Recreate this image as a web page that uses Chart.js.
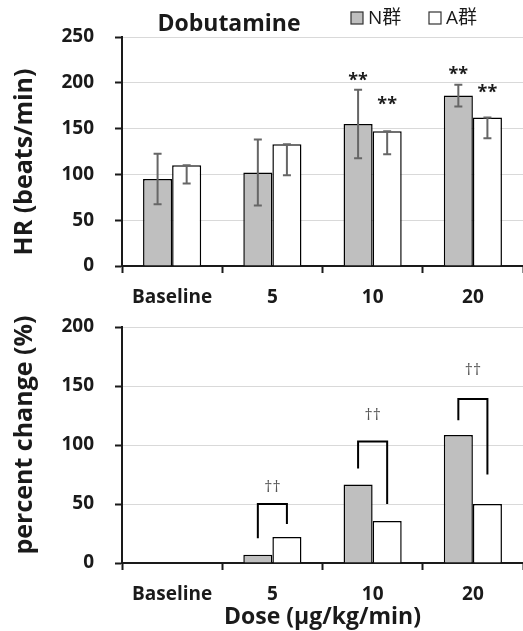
<!DOCTYPE html>
<html>
<head>
<meta charset="utf-8">
<script src="https://cdn.jsdelivr.net/npm/chart.js@4"></script>
<style>
  body { margin: 0; background: #fff; }
  canvas { display: block; }
</style>
</head>
<body>
<canvas id="hrChart" width="523" height="312"></canvas>
<canvas id="pctChart" width="523" height="319"></canvas>
<script>
const doses = ["Baseline", "5", "10", "20"];
const groupNames = ["N群", "A群"];

// HR (beats/min): means and SD
const hrN = [95, 102, 155, 186];
const hrA = [110, 133, 147, 162];
const hrNsd = [27.5, 36, 37.5, 12];
const hrAsd = [20, 34, 25, 22.5];
// where the ** marks sit (beats/min)
const starN = [null, null, 207, 213];
const starA = [null, null, 180, 193];

// percent change (%)
const pctN = [0, 7, 66.5, 108.5];
const pctA = [0, 22, 35.5, 50];
// brackets: top, N leg end, A leg end, dagger height (%)
const bracketTop = [null, 50, 103, 139];
const bracketLegN = [null, 21, 80, 121];
const bracketLegA = [null, 33, 50, 75];
const daggerY = [null, 64, 125, 163];

const FONT = "'Open Sans', 'Noto Sans CJK JP', sans-serif";
const INK = "#1a1a1a";
const grayFill = "#bfbfbf";

Chart.defaults.font.family = FONT;
Chart.defaults.color = INK;

function barSet(label, data, fill) {
    return {
        label: label, data: data, backgroundColor: fill,
        borderColor: "#000", borderWidth: 1.5, borderSkipped: "bottom",
        categoryPercentage: 0.58, barPercentage: 1.0
    };
}

function scalesFor(max, yWidth, xHeight, xTitle) {
    return {
        x: {
            grid: { drawOnChartArea: false, drawTicks: true, tickLength: 7, tickColor: INK, tickWidth: 2, offset: true },
            border: { color: INK, width: 2 },
            ticks: { font: { size: 19, weight: "bold" }, padding: 13, color: INK },
            title: xTitle ? { display: true, text: xTitle, font: { size: 23, weight: "bold" }, color: INK, padding: { top: 0, bottom: 0 } } : { display: false },
            afterFit: function (s) { s.height = xHeight; }
        },
        y: {
            min: 0, max: max,
            ticks: { stepSize: 50, font: { size: 19, weight: "bold" }, padding: 21, color: INK },
            grid: { color: "#d9d9d9", lineWidth: 1, tickLength: 7, tickColor: INK, tickWidth: 2 },
            border: { color: INK, width: 2 },
            afterFit: function (s) {
                s.width = yWidth;
                s.paddingTop = 0;
                s.paddingBottom = 0;
            }
        }
    };
}

// rotated axis title at a fixed spot
function yTitlePlugin(text, cx, cy, size) {
    return {
        id: "yTitle",
        afterDraw: function (chart) {
            const ctx = chart.ctx;
            ctx.save();
            ctx.translate(cx, cy);
            ctx.rotate(-Math.PI / 2);
            ctx.font = "bold " + size + "px " + FONT;
            ctx.fillStyle = INK;
            ctx.textAlign = "center";
            ctx.textBaseline = "middle";
            ctx.fillText(text, 0, 0);
            ctx.restore();
        }
    };
}

const errorBars = {
    id: "errorBars",
    afterDatasetsDraw: function (chart) {
        const ctx = chart.ctx;
        const y = chart.scales.y;
        ctx.save();
        ctx.strokeStyle = "#666";
        ctx.lineWidth = 2;
        [[0, hrN, hrNsd, true], [1, hrA, hrAsd, false]].forEach(function (d) {
            chart.getDatasetMeta(d[0]).data.forEach(function (bar, i) {
                const hi = d[3] ? y.getPixelForValue(d[1][i] + d[2][i]) : y.getPixelForValue(d[1][i]);
                const lo = y.getPixelForValue(d[1][i] - d[2][i]);
                ctx.beginPath();
                ctx.moveTo(bar.x, hi); ctx.lineTo(bar.x, lo);
                ctx.moveTo(bar.x - 4, hi); ctx.lineTo(bar.x + 4, hi);
                ctx.moveTo(bar.x - 4, lo); ctx.lineTo(bar.x + 4, lo);
                ctx.stroke();
            });
        });
        ctx.font = "bold 18px " + FONT;
        ctx.fillStyle = INK;
        ctx.textAlign = "center";
        ctx.textBaseline = "middle";
        [[0, starN], [1, starA]].forEach(function (d) {
            chart.getDatasetMeta(d[0]).data.forEach(function (bar, i) {
                if (d[1][i] !== null) ctx.fillText("**", bar.x, y.getPixelForValue(d[1][i]) + 4);
            });
        });
        ctx.restore();
    }
};

const headerPlugin = {
    id: "header",
    afterDraw: function (chart) {
        const ctx = chart.ctx;
        ctx.save();
        ctx.fillStyle = INK;
        ctx.font = "bold 23px " + FONT;
        ctx.textAlign = "center";
        ctx.textBaseline = "alphabetic";
        ctx.fillText("Dobutamine", 229, 31);
        const items = [[351, grayFill, groupNames[0]], [429, "#fff", groupNames[1]]];
        ctx.font = "19px " + FONT;
        ctx.textAlign = "left";
        ctx.textBaseline = "middle";
        items.forEach(function (it) {
            ctx.fillStyle = it[1];
            ctx.fillRect(it[0], 12, 12, 12);
            ctx.strokeStyle = "#333";
            ctx.lineWidth = 1.2;
            ctx.strokeRect(it[0], 12, 12, 12);
            ctx.fillStyle = INK;
            ctx.fillText(it[2], it[0] + 17, 19);
        });
        ctx.restore();
    }
};

const brackets = {
    id: "brackets",
    afterDatasetsDraw: function (chart) {
        const ctx = chart.ctx;
        const y = chart.scales.y;
        const barsN = chart.getDatasetMeta(0).data;
        const barsA = chart.getDatasetMeta(1).data;
        ctx.save();
        ctx.strokeStyle = "#000";
        ctx.lineWidth = 2;
        ctx.font = "16px " + FONT;
        ctx.fillStyle = "#555";
        ctx.textAlign = "center";
        ctx.textBaseline = "middle";
        bracketTop.forEach(function (top, i) {
            if (top === null) return;
            const x1 = barsN[i].x, x2 = barsA[i].x;
            ctx.beginPath();
            ctx.moveTo(x1, y.getPixelForValue(bracketLegN[i]));
            ctx.lineTo(x1, y.getPixelForValue(top));
            ctx.lineTo(x2, y.getPixelForValue(top));
            ctx.lineTo(x2, y.getPixelForValue(bracketLegA[i]));
            ctx.stroke();
            ctx.fillText("††", (x1 + x2) / 2, y.getPixelForValue(daggerY[i]));
        });
        ctx.restore();
    }
};

new Chart(document.getElementById("hrChart"), {
    type: "bar",
    data: { labels: doses, datasets: [barSet(groupNames[0], hrN, grayFill), barSet(groupNames[1], hrA, "#fff")] },
    options: {
        responsive: false, animation: false,
        layout: { padding: { top: 37, right: 0, left: 0, bottom: 0 } },
        plugins: { legend: { display: false }, tooltip: { enabled: false } },
        scales: scalesFor(250, 122, 46, null)
    },
    plugins: [errorBars, headerPlugin, yTitlePlugin("HR (beats/min)", 25, 162, 25)]
});

new Chart(document.getElementById("pctChart"), {
    type: "bar",
    data: { labels: doses, datasets: [barSet(groupNames[0], pctN, grayFill), barSet(groupNames[1], pctA, "#fff")] },
    options: {
        responsive: false, animation: false,
        layout: { padding: { top: 15, right: 0, left: 0, bottom: 0 } },
        plugins: { legend: { display: false }, tooltip: { enabled: false } },
        scales: scalesFor(200, 122, 68, "Dose (µg/kg/min)")
    },
    plugins: [brackets, yTitlePlugin("percent change (%)", 25, 123, 25)]
});
</script>
</body>
</html>
